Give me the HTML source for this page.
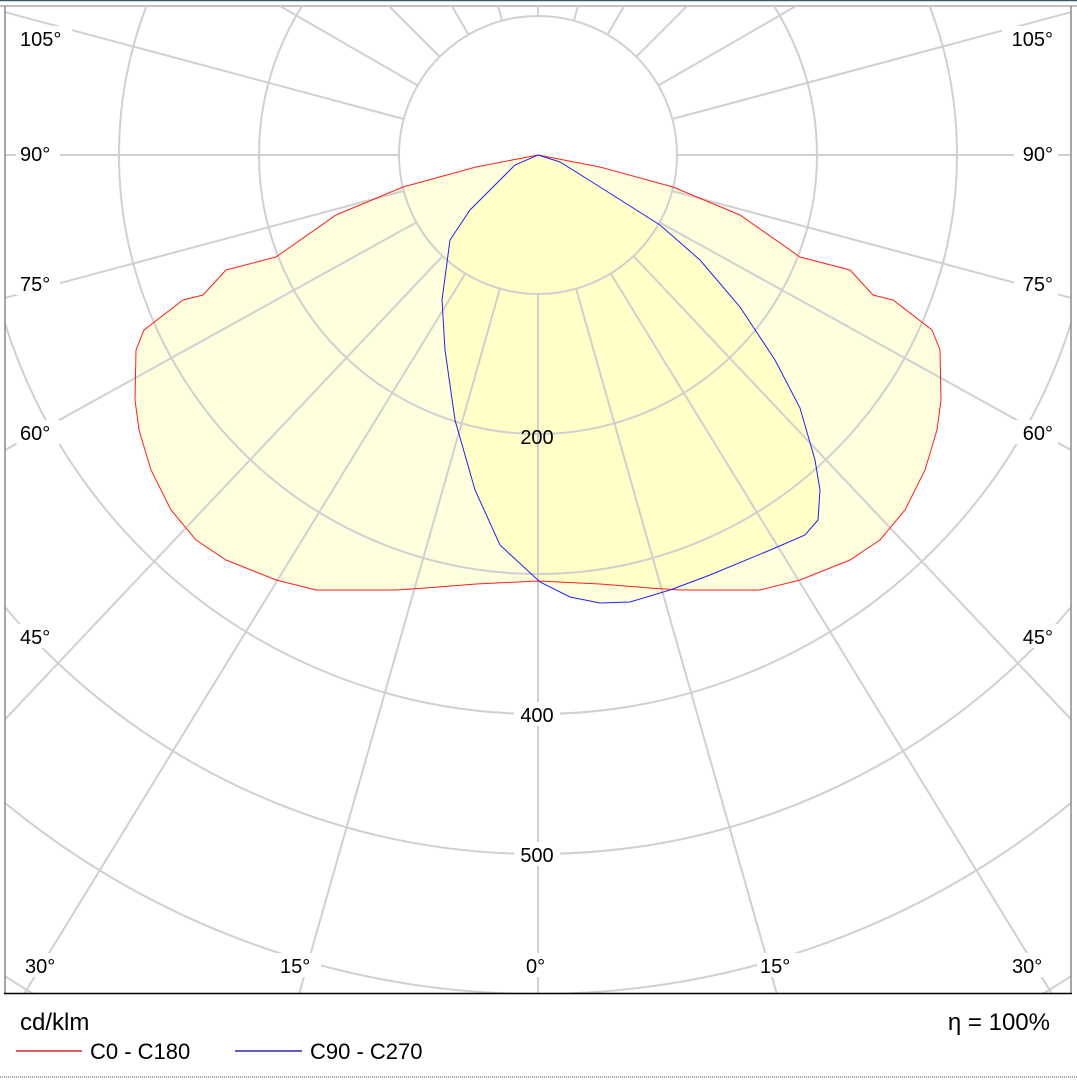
<!DOCTYPE html>
<html><head><meta charset="utf-8"><style>
html,body{margin:0;padding:0;background:#fff;width:1077px;height:1080px;overflow:hidden;}
svg{display:block;font-family:"Liberation Sans",sans-serif;}
</style></head><body>
<svg width="1077" height="1080" viewBox="0 0 1077 1080" xmlns="http://www.w3.org/2000/svg">
<rect x="0" y="0" width="1077" height="1080" fill="#fff"/>
<line x1="0" y1="0.5" x2="1077" y2="0.5" stroke="#3a5a6a" stroke-width="1.5"/>
<line x1="0" y1="6" x2="1077" y2="6" stroke="#b0aaa6" stroke-width="1.5"/>
<defs><clipPath id="c"><rect x="5" y="6" width="1066" height="987"/></clipPath></defs>
<g clip-path="url(#c)">
<g fill="#ffff99" fill-opacity="0.32">
<path d="M538,155 L600,167 L673,187 L740,215 L800,257 L850,270 L873,295 L893,300 L932,330 L940,350 L941,400 L937,430 L925,470 L905,510 L880,540 L850,560 L800,580 L760,590 L720,590 L680,590 L650,588 L600,584 L538,581 L476,584 L426,588 L396,590 L356,590 L316,590 L276,580 L226,560 L196,540 L171,510 L151,470 L139,430 L135,400 L136,350 L144,330 L183,300 L203,295 L226,270 L276,257 L336,215 L403,187 L476,167 Z"/>
<path d="M538,155 L560,162 L600,187 L660,225 L700,260 L740,307 L775,360 L800,408 L815,460 L820,490 L818,520 L805,535 L775,548 L710,575 L670,590 L630,602 L600,603 L570,597 L540,582 L500,545 L475,490 L455,420 L445,350 L442,300 L450,240 L470,210 L515,165 Z"/>
</g>
<g stroke="#d0d0d0" stroke-width="2" fill="none">
<circle cx="538" cy="155" r="139"/>
<circle cx="538" cy="155" r="279"/>
<circle cx="538" cy="155" r="419"/>
<circle cx="538" cy="155" r="559"/>
<circle cx="538" cy="155" r="699"/>
<circle cx="538" cy="155" r="839"/>
<circle cx="538" cy="155" r="979"/>
<line x1="538" y1="294" x2="538" y2="1200"/>
<line x1="538" y1="16" x2="538" y2="-1200"/>
</g>
<g stroke="#d0d0d0" stroke-width="2" fill="none" stroke-dasharray="0 139 3000">
<line x1="538" y1="155" x2="208" y2="1314"/>
<line x1="538" y1="155" x2="868" y2="1314"/>
<line x1="538" y1="155" x2="-90" y2="1180"/>
<line x1="538" y1="155" x2="1166" y2="1180"/>
<line x1="538" y1="155" x2="-600" y2="1360"/>
<line x1="538" y1="155" x2="1676" y2="1360"/>
<line x1="538" y1="155" x2="-600" y2="785"/>
<line x1="538" y1="155" x2="1676" y2="785"/>
<line x1="538" y1="155" x2="-600" y2="460"/>
<line x1="538" y1="155" x2="1676" y2="460"/>
<line x1="538" y1="155" x2="-600" y2="155"/>
<line x1="538" y1="155" x2="1676" y2="155"/>
<line x1="538" y1="155" x2="-600" y2="-150"/>
<line x1="538" y1="155" x2="1676" y2="-150"/>
<line x1="538" y1="155" x2="-600" y2="-502"/>
<line x1="538" y1="155" x2="1676" y2="-502"/>
<line x1="538" y1="155" x2="-600" y2="-983"/>
<line x1="538" y1="155" x2="1676" y2="-983"/>
<line x1="538" y1="155" x2="-31" y2="-830"/>
<line x1="538" y1="155" x2="1107" y2="-830"/>
<line x1="538" y1="155" x2="233" y2="-983"/>
<line x1="538" y1="155" x2="843" y2="-983"/>
</g>
<g fill="none" stroke-width="1">
<path stroke="#ff2020" d="M538,155 L600,167 L673,187 L740,215 L800,257 L850,270 L873,295 L893,300 L932,330 L940,350 L941,400 L937,430 L925,470 L905,510 L880,540 L850,560 L800,580 L760,590 L720,590 L680,590 L650,588 L600,584 L538,581 L476,584 L426,588 L396,590 L356,590 L316,590 L276,580 L226,560 L196,540 L171,510 L151,470 L139,430 L135,400 L136,350 L144,330 L183,300 L203,295 L226,270 L276,257 L336,215 L403,187 L476,167 Z"/>
<path stroke="#2020ff" d="M538,155 L560,162 L600,187 L660,225 L700,260 L740,307 L775,360 L800,408 L815,460 L820,490 L818,520 L805,535 L775,548 L710,575 L670,590 L630,602 L600,603 L570,597 L540,582 L500,545 L475,490 L455,420 L445,350 L442,300 L450,240 L470,210 L515,165 Z"/>
</g>
<g font-size="20" fill="#000">
<g fill="#fff">
<rect x="16" y="26" width="56" height="24"/><rect x="1002" y="26" width="56" height="24"/>
<rect x="16" y="141" width="44" height="24"/><rect x="1014" y="141" width="44" height="24"/>
<rect x="16" y="271" width="44" height="24"/><rect x="1014" y="271" width="44" height="24"/>
<rect x="16" y="420" width="44" height="24"/><rect x="1014" y="420" width="44" height="24"/>
<rect x="16" y="624" width="44" height="24"/><rect x="1014" y="624" width="44" height="24"/>
<rect x="22" y="953" width="44" height="24"/><rect x="277" y="953" width="44" height="24"/>
<rect x="522" y="953" width="30" height="24"/><rect x="757" y="953" width="44" height="24"/><rect x="1009" y="953" width="44" height="24"/>
<rect x="514" y="702" width="46" height="24"/><rect x="514" y="842" width="46" height="24"/>
</g>
<text x="20" y="46">105°</text><text x="1053" y="46" text-anchor="end">105°</text>
<text x="20" y="161">90°</text><text x="1053" y="161" text-anchor="end">90°</text>
<text x="20" y="291">75°</text><text x="1053" y="291" text-anchor="end">75°</text>
<text x="20" y="440">60°</text><text x="1053" y="440" text-anchor="end">60°</text>
<text x="20" y="644">45°</text><text x="1053" y="644" text-anchor="end">45°</text>
<text x="25" y="973">30°</text><text x="280" y="973">15°</text><text x="526" y="973">0°</text>
<text x="760" y="973">15°</text><text x="1012" y="973">30°</text>
<text x="537" y="444" text-anchor="middle">200</text>
<text x="537" y="722" text-anchor="middle">400</text>
<text x="537" y="862" text-anchor="middle">500</text>
</g>
</g>
<line x1="5" y1="6" x2="5" y2="993" stroke="#888" stroke-width="1.5"/>
<line x1="1071" y1="6" x2="1071" y2="993" stroke="#888" stroke-width="1.5"/>
<line x1="4" y1="993.5" x2="1072" y2="993.5" stroke="#000" stroke-width="1.5"/>
<text x="20" y="1030" font-size="24">cd/klm</text>
<text x="1050" y="1030" font-size="24" text-anchor="end">η = 100%</text>
<line x1="16" y1="1051" x2="82" y2="1051" stroke="#c00000" stroke-width="1.2"/>
<text x="90" y="1059" font-size="22">C0 - C180</text>
<line x1="235" y1="1051" x2="302" y2="1051" stroke="#000090" stroke-width="1.2"/>
<text x="310" y="1059" font-size="22">C90 - C270</text>
<line x1="0" y1="1077" x2="1077" y2="1077" stroke="#aaa" stroke-width="2" stroke-dasharray="1 1"/>
</svg>
</body></html>
